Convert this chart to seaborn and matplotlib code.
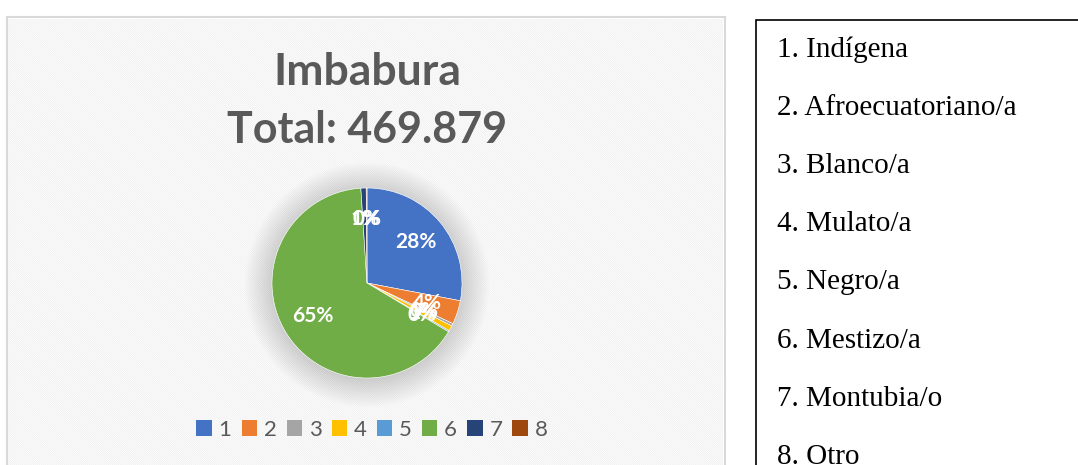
import matplotlib
matplotlib.use("Agg")
import matplotlib.pyplot as plt
from matplotlib.patches import Rectangle, Circle, Patch
import seaborn as sns

# Imbabura - autoidentificación étnica
codes = ["1", "2", "3", "4", "5", "6", "7", "8"]
groups = ["Indígena", "Afroecuatoriano/a", "Blanco/a", "Mulato/a",
          "Negro/a", "Mestizo/a", "Montubia/o", "Otro"]
counts = [131539, 19000, 2000, 4300, 1000, 307200, 4200, 640]
total_label = "469.879"

office_colors = ["#4472C4", "#ED7D31", "#A5A5A5", "#FFC000",
                 "#5B9BD5", "#70AD47", "#264478", "#9E480E"]

sns.set_theme(style="white")
plt.rcParams['font.family'] = ['Lato', 'DejaVu Sans']
plt.rcParams['hatch.linewidth'] = 0.6
palette = sns.color_palette(office_colors)

W, H = 1078, 465
fig = plt.figure(figsize=(W / 100, H / 100), dpi=100)
fig.patch.set_facecolor("white")

# chart panel with light diagonal stripes
panel = Rectangle((7 / W, -0.05), (725 - 7) / W, (H - 17) / H + 0.05,
                  transform=fig.transFigure, facecolor="white",
                  edgecolor="#d9d9d9", linewidth=1.5, zorder=-2)
stripes = Rectangle((8 / W, -0.05), (723 - 8) / W, (H - 19) / H + 0.05,
                    transform=fig.transFigure, facecolor="none",
                    edgecolor="#f0f0f0", hatch="\\" * 16, linewidth=0, zorder=-1)
fig.patches.extend([panel, stripes])

# title
fig.text(367 / W, 1 - 72 / H, "Imbabura", ha="center", va="center",
         fontsize=32, fontweight="bold", color="#595959")
fig.text(367 / W, 1 - 130 / H, "Total: " + total_label, ha="center", va="center",
         fontsize=31, fontweight="bold", color="#595959")

# pie
cx, cy, r = 367, 283, 95
ax = fig.add_axes([(cx - r) / W, (H - cy - r) / H, 2 * r / W, 2 * r / H], zorder=2)
ax.set_facecolor("none")
for i in range(14):
    ax.add_patch(Circle((0, -0.02), 1.0 + i * 0.022, facecolor="#000000",
                        alpha=0.011, linewidth=0, clip_on=False, zorder=0))
ax.add_patch(Circle((0, 0), 1.0, facecolor="white", linewidth=0, zorder=0.5))
wedges, texts, autotexts = ax.pie(
    counts, colors=palette, startangle=90, counterclock=False,
    autopct="%1.0f%%", pctdistance=0.67,
    wedgeprops=dict(edgecolor="white", linewidth=0.4),
    textprops=dict(color="white", fontsize=15, fontweight="bold"))
for w in wedges:
    w.set_zorder(2)
for t in autotexts:
    t.set_zorder(3)
ax.set_xlim(-1, 1)
ax.set_ylim(-1, 1)
ax.set_aspect("equal")
ax.axis("off")

# legend
handles = [Patch(facecolor=c, edgecolor="none", label=l) for c, l in zip(palette, codes)]
fig.legend(handles=handles, loc="center", bbox_to_anchor=(372 / W, 1 - 430 / H),
           ncol=8, frameon=False, fontsize=16, labelcolor="#595959",
           handlelength=0.7, handleheight=0.7, handletextpad=0.3,
           columnspacing=0.45)

# categories box on the right
box = Rectangle((756 / W, -0.05), 0.5, (H - 20) / H + 0.05,
                transform=fig.transFigure, facecolor="white",
                edgecolor="black", linewidth=1.2)
fig.patches.append(box)
for i, (code, name) in enumerate(zip(codes, groups)):
    fig.text(777 / W, 1 - (50 + i * 58.1) / H, f"{code}. {name}",
             ha="left", va="center", fontsize=21, color="black",
             family=["Liberation Serif", "DejaVu Serif"])

fig.savefig("out.png", dpi=100)
